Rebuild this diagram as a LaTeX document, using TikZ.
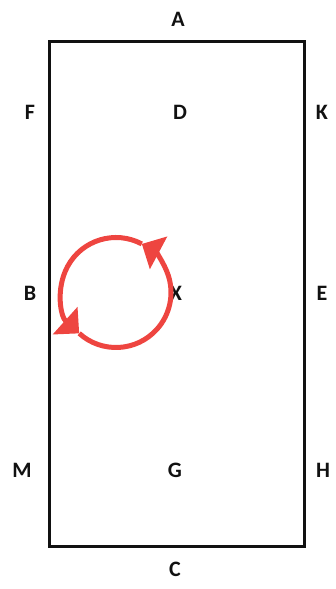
\documentclass[tikz,border=0pt]{standalone}
\usepackage{fontspec}
\setmainfont{Carlito}
\usepackage{tikz}
\usetikzlibrary{arrows.meta}
\definecolor{LoopRed}{HTML}{EE4540}
\definecolor{FrameInk}{HTML}{111111}

\begin{document}
\begin{tikzpicture}[x=1pt, y=-1pt,
  letter/.style={inner sep=0pt, text=FrameInk,
                 font=\fontsize{22}{26}\selectfont\bfseries},
  frame/.style={draw=FrameInk, line width=3pt},
  loop/.style={draw=LoopRed, line width=5pt,
               -{Triangle[length=19pt, width=36pt]}}
]
\useasboundingbox (0,0) rectangle (336,589);
\draw[frame] (49.7,41.7) rectangle (304.3,546.7);
% labels round the frame
\node[letter] (lA) at (178,19) {A};
\node[letter] (lF) at (30,112) {F};
\node[letter] (lD) at (180,112.5) {D};
\node[letter] (lK) at (322,112) {K};
\node[letter] (lB) at (30,293) {B};
\node[letter] (lX) at (176,293) {X};
\node[letter] (lE) at (322,293) {E};
\node[letter] (lM) at (22,470) {M};
\node[letter] (lG) at (175,470) {G};
\node[letter] (lH) at (323,470) {H};
\node[letter] (lC) at (175,569.5) {C};
% rotation arrows
\coordinate (ring) at (116,292.5);
\draw[loop] (ring) ++(-62:55) arc[start angle=-62, end angle=-228, radius=55];
\draw[loop] (ring) ++(-228:55) arc[start angle=-228, end angle=-422, radius=55];
\end{tikzpicture}
\end{document}
